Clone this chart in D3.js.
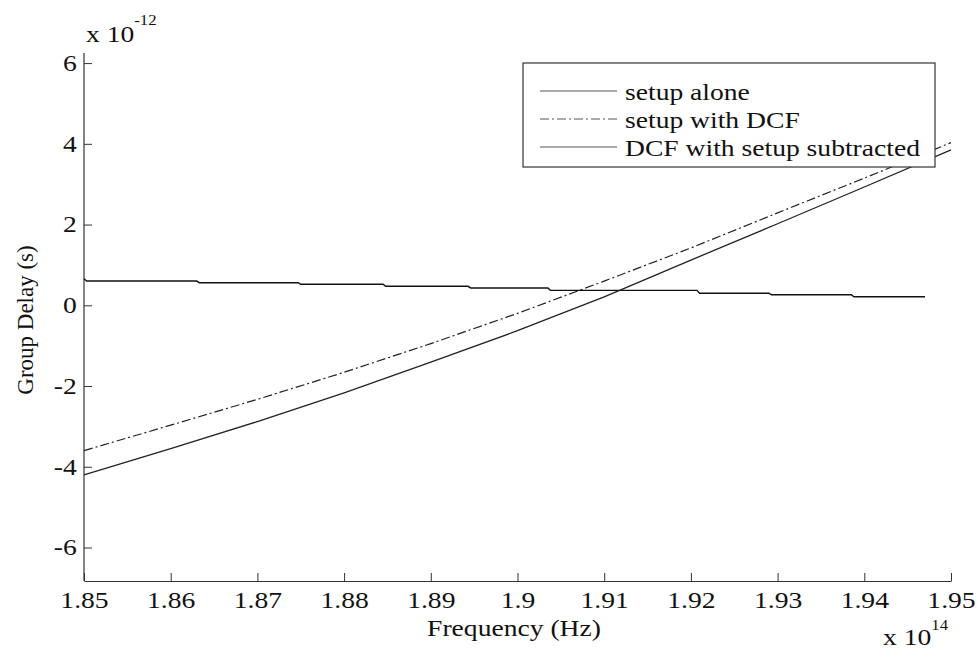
<!DOCTYPE html>
<html>
<head>
<meta charset="utf-8">
<script src="https://cdn.jsdelivr.net/npm/d3@7"></script>
<style>
  html, body { margin: 0; padding: 0; background: #fff; }
  svg text { font-family: "Liberation Serif", "Times New Roman", serif; fill: #111; }
</style>
</head>
<body>
<svg id="chart" width="980" height="657"></svg>
<script>
// Frequency in units of 1e14 Hz, group delay in units of 1e-12 s
const freqTicks = [1.85, 1.86, 1.87, 1.88, 1.89, 1.90, 1.91, 1.92, 1.93, 1.94, 1.95];
const delayTicks = [-6, -4, -2, 0, 2, 4, 6];

const curveFreq = [1.85, 1.86, 1.87, 1.88, 1.89, 1.90, 1.91, 1.92, 1.93, 1.94, 1.95];
const setupWithDCF = [-3.60, -2.97, -2.33, -1.66, -0.95, -0.20, 0.60, 1.42, 2.29, 3.15, 4.03];
const dcfSubtracted = [-4.20, -3.55, -2.88, -2.17, -1.41, -0.63, 0.21, 1.12, 2.02, 2.93, 3.85];

const setupAloneFreq = [1.8500, 1.8503, 1.8630, 1.8633, 1.8747, 1.8750, 1.8845, 1.8848, 1.8943, 1.8946,
                        1.9035, 1.9038, 1.9207, 1.9210, 1.9290, 1.9293, 1.9385, 1.9388, 1.9470];
const setupAlone = [0.66, 0.60, 0.60, 0.56, 0.56, 0.52, 0.52, 0.47, 0.47, 0.43,
                    0.43, 0.37, 0.37, 0.30, 0.30, 0.26, 0.26, 0.21, 0.21];

const legendLabels = ["setup alone", "setup with DCF", "DCF with setup subtracted"];

const FONT = 23;      // text size
const WIDE = 1.2;     // horizontal stretch of the lettering

const svg = d3.select("#chart");
const plot = { left: 84, right: 951, top: 53, bottom: 581 };

const x = d3.scaleLinear().domain([1.85, 1.95]).range([plot.left, plot.right]);
const y = d3.scaleLinear().domain([-6.83, 6.25]).range([plot.bottom, plot.top]);

// Horizontal text drawn slightly widened, anchored at (px, py)
function wideText(parent, px, py, anchor, size) {
  return parent.append("g").attr("transform", `translate(${px},${py})`)
    .append("text").attr("transform", `scale(${WIDE},1)`)
    .attr("text-anchor", anchor).attr("font-size", size);
}

// Axes with inward ticks
const xAxis = d3.axisBottom(x).tickValues(freqTicks).tickSizeInner(-8).tickSizeOuter(0)
  .tickPadding(11).tickFormat(d => String(+d.toFixed(2)));
const yAxis = d3.axisLeft(y).tickValues(delayTicks).tickSizeInner(-8).tickSizeOuter(0)
  .tickPadding(6).tickFormat(d => d);

const gx = svg.append("g").attr("transform", `translate(0,${plot.bottom})`).call(xAxis);
const gy = svg.append("g").attr("transform", `translate(${plot.left},0)`).call(yAxis);
[gx, gy].forEach(g => {
  g.select(".domain").attr("stroke", "#333").attr("stroke-width", 1.2);
  g.selectAll(".tick line").attr("stroke", "#333");
  g.selectAll(".tick text").attr("font-size", FONT).attr("fill", "#111")
    .style("font-family", "'Liberation Serif', serif")
    .attr("transform", `scale(${WIDE},1)`);
});
gy.select(".domain").attr("d", `M0,${plot.top}V${plot.bottom}`);

// Axis labels and exponent markers
wideText(svg, 514, 636, "middle", FONT).text("Frequency (Hz)");
svg.append("text").attr("transform", "translate(33,320) rotate(-90)").attr("text-anchor", "middle")
  .attr("font-size", FONT).text("Group Delay (s)");

const ex = wideText(svg, 883, 645, "start", FONT);
ex.append("tspan").text("x 10");
ex.append("tspan").attr("dy", -15).attr("font-size", 14).text("14");

const ey = wideText(svg, 86, 42, "start", FONT);
ey.append("tspan").text("x 10");
ey.append("tspan").attr("dy", -17).attr("font-size", 14).text("-12");

// Curves
const line = d3.line().x(d => x(d[0])).y(d => y(d[1]));
const series = [
  { pts: d3.zip(setupAloneFreq, setupAlone), dash: null, color: "#111", width: 1.4 },
  { pts: d3.zip(curveFreq, setupWithDCF), dash: "9,3,2,3", color: "#222", width: 1.2 },
  { pts: d3.zip(curveFreq, dcfSubtracted), dash: null, color: "#222", width: 1.3 }
];
series.forEach(s => {
  svg.append("path").datum(s.pts).attr("d", line).attr("fill", "none")
    .attr("stroke", s.color).attr("stroke-width", s.width)
    .attr("stroke-dasharray", s.dash);
});

// Legend
const lg = svg.append("g");
lg.append("rect").attr("x", 523).attr("y", 63).attr("width", 412).attr("height", 104)
  .attr("fill", "#fff").attr("stroke", "#333").attr("stroke-width", 1.2);
legendLabels.forEach((lab, i) => {
  const cy = 91 + i * 28;
  const s = series[i];
  lg.append("line").attr("x1", 540).attr("x2", 617).attr("y1", cy).attr("y2", cy)
    .attr("stroke", "#555").attr("stroke-width", 1).attr("stroke-dasharray", s.dash);
  wideText(lg, 625, cy + 9, "start", FONT).text(lab);
});
</script>
</body>
</html>
